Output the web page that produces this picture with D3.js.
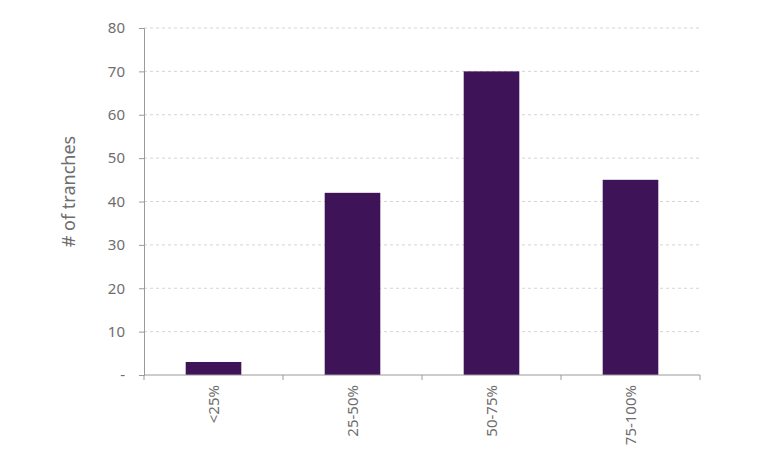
<!DOCTYPE html>
<html>
<head>
<meta charset="utf-8">
<script src="https://cdn.jsdelivr.net/npm/d3@7"></script>
<style>
  body { margin: 0; background: #fff; }
  text { font-family: "Noto Sans", "DejaVu Sans", sans-serif; fill: #6e6e6e; }
</style>
</head>
<body>
<script>
// tranche buckets and counts
var categories = ["<25%", "25-50%", "50-75%", "75-100%"]
var counts = [3, 42, 70, 45]
var yTicks = [0, 10, 20, 30, 40, 50, 60, 70, 80]

var width = 768,
    height = 471,
    margin = {top: 28, right: 68, bottom: 96, left: 144}

var svg = d3.select("body").append("svg")
    .attr("width", width)
    .attr("height", height)

var x = d3.scaleBand()
    .domain(categories)
    .range([margin.left, width - margin.right])
    .paddingInner(0.6)
    .paddingOuter(0.3)

var y = d3.scaleLinear()
    .domain([0, 80])
    .range([height - margin.bottom, margin.top])

// dotted gridlines
svg.append("g")
    .selectAll("line")
    .data(yTicks.slice(1))
    .enter().append("line")
    .attr("x1", margin.left)
    .attr("x2", width - margin.right)
    .attr("y1", d => y(d))
    .attr("y2", d => y(d))
    .attr("stroke", "#d4d4d4")
    .attr("stroke-dasharray", "3,3")

svg.append("g")
    .selectAll("rect")
    .data(counts)
    .enter().append("rect")
    .attr("x", (d, i) => x(categories[i]))
    .attr("width", x.bandwidth())
    .attr("y", d => y(d))
    .attr("height", d => y(0) - y(d))
    .attr("fill", "#3f1357")

// y axis
var yAxis = svg.append("g")
    .attr("transform", `translate(${margin.left},0)`)
    .call(d3.axisLeft(y).tickValues(yTicks).tickSize(5).tickPadding(14)
        .tickFormat(d => d === 0 ? "-" : d))
yAxis.selectAll("path, line").attr("stroke", "#9a9a9a")
yAxis.selectAll("text").style("font-size", "15px")

// x axis, ticks at category boundaries
var step = x.step()
var bounds = d3.range(categories.length + 1).map(i => margin.left + i * step)
var xAxis = svg.append("g")
    .attr("transform", `translate(0,${y(0)})`)
xAxis.append("line")
    .attr("x1", margin.left)
    .attr("x2", width - margin.right)
    .attr("stroke", "#9a9a9a")
xAxis.selectAll(".bound")
    .data(bounds)
    .enter().append("line")
    .attr("class", "bound")
    .attr("x1", d => d).attr("x2", d => d)
    .attr("y1", 0).attr("y2", 5)
    .attr("stroke", "#9a9a9a")
xAxis.selectAll(".lab")
    .data(categories)
    .enter().append("text")
    .attr("class", "lab")
    .attr("transform", d => `translate(${x(d) + x.bandwidth() / 2 + 5},${10}) rotate(-90)`)
    .attr("text-anchor", "end")
    .style("font-size", "15px")
    .text(d => d)

svg.append("text")
    .attr("transform", `translate(75,${(margin.top + y(0)) / 2 - 10}) rotate(-90)`)
    .attr("text-anchor", "middle")
    .style("font-size", "18px")
    .text("# of tranches")
</script>
</body>
</html>
